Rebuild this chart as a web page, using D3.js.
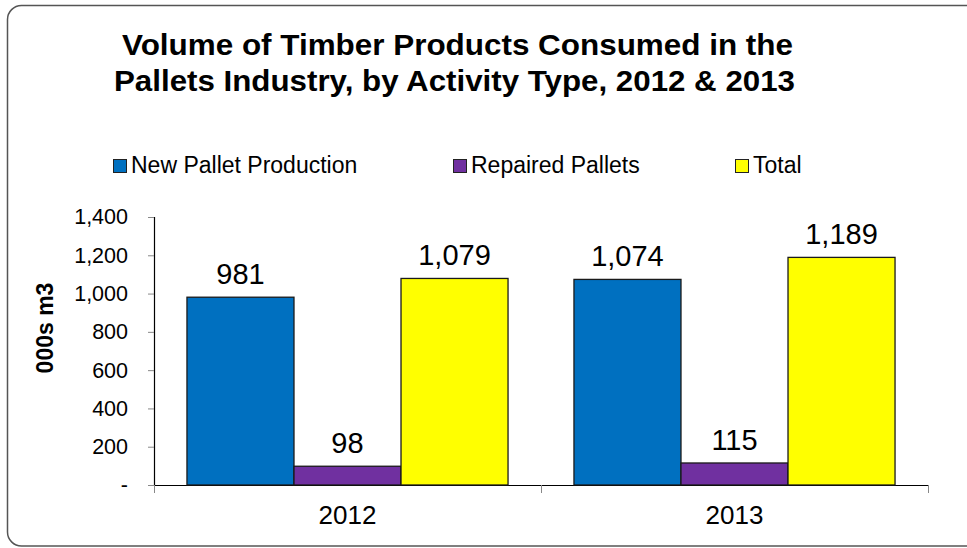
<!DOCTYPE html>
<html>
<head>
<meta charset="utf-8">
<script src="https://cdn.jsdelivr.net/npm/d3@7"></script>
<style>
  html, body { margin: 0; padding: 0; background: #fff; overflow: hidden; }
  svg { display: block; font-family: "Liberation Sans", Arial, sans-serif; }
</style>
</head>
<body>
<svg id="chart" width="967" height="548"></svg>
<script>
// Timber volumes (000s m3) by pallet activity type
const years = ["2012", "2013"];
const seriesNames = ["New Pallet Production", "Repaired Pallets", "Total"];
const newPallets = [981, 1074];
const repairedPallets = [98, 115];
const totals = [1079, 1189];
const seriesColors = ["#0070C0", "#7030A0", "#FFFF00"];
const yTicks = [0, 200, 400, 600, 800, 1000, 1200, 1400];
const titleLines = [
  "Volume of Timber Products Consumed in the",
  "Pallets Industry, by Activity Type, 2012 & 2013"
];
const yLabel = "000s m3";

const seriesValues = [newPallets, repairedPallets, totals];
const svg = d3.select("#chart");

// outer rounded frame, open on the right where it runs past the edge
const fr = d3.path();
fr.moveTo(1000, 5.5);
fr.lineTo(21.5, 5.5);
fr.arcTo(7.5, 5.5, 7.5, 19.5, 14);
fr.lineTo(7.5, 532);
fr.arcTo(7.5, 546, 21.5, 546, 14);
fr.lineTo(1000, 546);
svg.append("path").attr("d", fr.toString())
  .attr("fill", "none").attr("stroke", "#555").attr("stroke-width", 1.5);

// title
const titleX = [457.5, 454.5];
const titleY = [55, 91];
const titleLen = [671, 681];
titleLines.forEach((t, i) => {
  svg.append("text")
    .attr("x", titleX[i]).attr("y", titleY[i])
    .attr("text-anchor", "middle")
    .attr("font-size", 30).attr("font-weight", "bold")
    .attr("textLength", titleLen[i]).attr("lengthAdjust", "spacingAndGlyphs")
    .text(t);
});

// plot geometry
const plotLeft = 154, plotRight = 928, plotTop = 217, plotBottom = 485;

const x0 = d3.scaleBand().domain(years).range([plotLeft, plotRight]).paddingInner(0).paddingOuter(0);
const x1 = d3.scaleBand().domain(seriesNames).range([0, x0.bandwidth()])
  .paddingInner(0).paddingOuter(0.308);
const y = d3.scaleLinear().domain([0, 1400]).range([plotBottom, plotTop]);

// y axis
const yAxis = d3.axisLeft(y).tickValues(yTicks).tickSize(6).tickPadding(20)
  .tickFormat(d => d === 0 ? "-" : d3.format(",")(d));
const gy = svg.append("g").attr("transform", `translate(${plotLeft},0)`).call(yAxis);
gy.select(".domain").attr("stroke", "#000").attr("stroke-width", 1.2).attr("d", `M0.5,${plotTop}V${plotBottom}`);
gy.selectAll(".tick line").attr("stroke", "#888");
gy.selectAll(".tick text").attr("font-size", 21.5).attr("fill", "#000")
  .attr("font-family", "'Liberation Sans', Arial, sans-serif");

// x axis
const xAxis = d3.axisBottom(x0).tickSize(0).tickPadding(21);
const gx = svg.append("g").attr("transform", `translate(0,${plotBottom})`).call(xAxis);
gx.select(".domain").attr("stroke", "#000").attr("stroke-width", 1.2).attr("d", `M${plotLeft},0.5H${plotRight}`);
gx.selectAll(".tick text").attr("font-size", 26).attr("fill", "#000")
  .attr("font-family", "'Liberation Sans', Arial, sans-serif");
// category separators below the axis
const sepPositions = [plotLeft, x0(years[1]), plotRight];
svg.append("g").selectAll("line").data(sepPositions).join("line")
  .attr("x1", d => d + 0.5).attr("x2", d => d + 0.5)
  .attr("y1", plotBottom).attr("y2", plotBottom + 8)
  .attr("stroke", "#888").attr("stroke-width", 1);

// bars
const groups = svg.append("g").selectAll("g").data(years).join("g")
  .attr("transform", d => `translate(${x0(d)},0)`);

groups.each(function(yr, yi) {
  const g = d3.select(this);
  seriesNames.forEach((s, si) => {
    const v = seriesValues[si][yi];
    g.append("rect")
      .attr("x", x1(s)).attr("y", y(v))
      .attr("width", x1.bandwidth()).attr("height", plotBottom - y(v))
      .attr("fill", seriesColors[si]).attr("stroke", "#1a1a1a").attr("stroke-width", 1.3);
    g.append("text")
      .attr("x", x1(s) + x1.bandwidth() / 2).attr("y", y(v) - 13)
      .attr("text-anchor", "middle").attr("font-size", 29)
      .text(d3.format(",")(v));
  });
});

// y axis title
svg.append("text")
  .attr("transform", `translate(53,328) rotate(-90)`)
  .attr("text-anchor", "middle").attr("font-size", 23).attr("font-weight", "bold")
  .text(yLabel);

// legend
const legendX = [113, 453, 735];
const legend = svg.append("g").selectAll("g").data(seriesNames).join("g")
  .attr("transform", (d, i) => `translate(${legendX[i]},159)`);
legend.append("rect").attr("x", 0.5).attr("y", 0.5).attr("width", 13).attr("height", 13)
  .attr("fill", (d, i) => seriesColors[i]).attr("stroke", "#222").attr("stroke-width", 1);
legend.append("text").attr("x", 18).attr("y", 14).attr("font-size", 23).text(d => d);
</script>
</body>
</html>
